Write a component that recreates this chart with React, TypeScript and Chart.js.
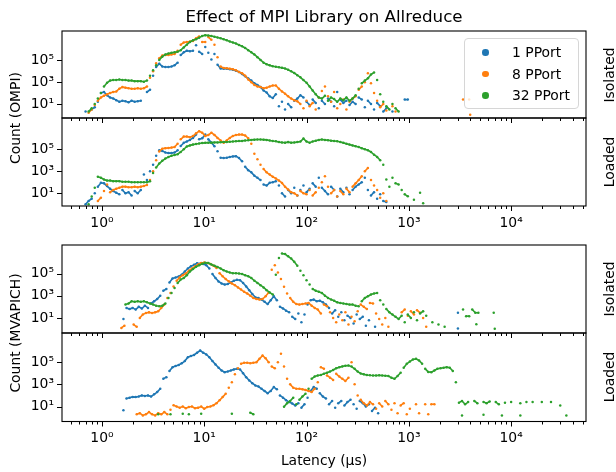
import React, { useEffect, useRef } from "react";
import { Chart, registerables } from "chart.js";
Chart.register(...registerables);

// ---------- layout constants ----------
const W = 616;
const H = 472;
const PLOT_LEFT = 62;
const PLOT_RIGHT = 586;
const X_AXIS_H = 40;
const FONT = "'DejaVu Sans', 'Liberation Sans', sans-serif";

// ---------- data ----------
// histogram bins are spaced STEP apart in log10(latency / µs); values are log10(count)
const STEP = 0.03;
type Seg = { from: number; y: (number | null)[] };

const SERIES_NAMES = ["1 PPort", "8 PPort", "32 PPort"];
const SERIES_COLORS = ["#1f77b4", "#ff7f0e", "#2ca02c"];

// OMPI — Isolated
const OMPI_ISO_1: Seg[] = [
  { from: -0.16, y: [0.3, null, 0.5, 0.7, 1.2, 2.0, 2.1, 1.8, 1.6, 1.5, 1.35, 1.2, 1.3, 1.25, 1.15, 1.3, 1.2, 1.25, 1.3, null, 2.1, 2.3, 3.6, 4.4, 4.7, 4.45, 4.4, 4.4, 4.45, 4.55, 4.8, 5.5, 5.75, 5.9, 5.85, 5.9, 6.4, 5.8, 5.6, 6.25, 5.7, 5.1, 5.6, 4.6, 4.27, 4.25, 4.25, 4.2, 4.15, 4.05, 3.95, 3.75, 3.55, 3.35, 3.15, 2.9, 2.75, 2.55, 2.25, 2.05, 1.7, 1.55, 1.9, 0.8, 1.2, 0.5, 1.0, 0.7, 1.3, 1.5, 1.8, 1.6, 1.2, 0.9, 1.4, 1.1, 0.6, 1.3, 1.0, 1.5, 1.2, 0.8, 2.1, 1.4, 1.1, 1.3, 0.9, 1.2, 1.0, 1.6, 1.4, 0.7, 1.3, 1.0, 0.5, 1.1, 0.8, 0.3, 0.6, null, 0.3, null, null, null, 1.4, 1.4] },
];
const OMPI_ISO_8: Seg[] = [
  { from: -0.13, y: [0.2, 0.5, 0.9, 1.3, 1.6, 1.75, 1.9, 2.0, 2.1, 2.15, 2.4, 2.55, 2.5, 2.45, 2.4, 2.4, 2.45, 2.4, 2.45, 2.6, 3.4, 4.0, 4.75, 5.2, 5.45, 5.5, 5.5, 5.55, 5.6, 5.9, 6.45, 6.65, 6.7, 6.75, 6.8, 7.05, 7.2, 6.7, 6.7, 7.15, 6.9, 6.45, 5.3, 4.45, 4.3, 4.28, 4.25, 4.2, 4.1, 3.95, 3.82, 3.6, 3.25, 3.0, 2.75, 2.6, 2.55, 2.45, 2.5, 2.6, 2.7, 2.7, 2.4, 2.15, 1.95, 1.7, 1.5, 1.35, 1.24, 1.0, 0.6, 1.3, 0.8, 1.1, 0.5, 1.6, 2.2, 2.6, 1.7, 1.2, 2.1, 0.6, 1.0, 1.4, 0.5, 1.2, 1.5, 1.7, 2.3, 2.6, 3.0, 3.82, 2.9, 2.0, 1.3, 0.7, 1.0, 0.4, null, 0.8, 0.3] },
  { from: 3.53, y: [1.4, null, 1.4] },
  { from: 3.6, y: [0.0] },
];
const OMPI_ISO_32: Seg[] = [
  { from: -0.13, y: [0.3, 0.6, 1.0, 1.5, 2.0, 2.6, 2.95, 3.15, 3.2, 3.2, 3.25, 3.2, 3.2, 3.15, 3.15, 3.1, 3.1, 3.1, 3.05, 3.15, 3.6, 4.1, 4.55, 5.05, 5.35, 5.55, 5.65, 5.7, 5.75, 5.8, 5.95, 6.2, 6.45, 6.7, 6.85, 6.95, 7.1, 7.25, 7.33, 7.3, 7.25, 7.18, 7.12, 7.05, 6.95, 6.85, 6.75, 6.65, 6.55, 6.42, 6.3, 6.15, 5.95, 5.75, 5.55, 5.3, 5.05, 4.8, 4.65, 4.55, 4.47, 4.42, 4.38, 4.32, 4.27, 4.15, 4.0, 3.85, 3.65, 3.45, 3.2, 2.95, 2.6, 2.25, 1.9, 1.6, 1.5, 1.75, 1.3, 1.6, 1.45, 1.2, 1.5, 1.35, 1.6, 1.3, 1.5, 1.8, 2.4, 2.9, 3.15, 3.36, 3.7, 3.9, 3.2, 1.9, 1.2, 0.8, 0.5, 1.0, 0.6, 0.3] },
];

// OMPI — Loaded
const OMPI_LOAD_1: Seg[] = [
  { from: -0.16, y: [0.0, 0.3, 0.5, 1.0, 1.6, 1.95, 1.9, 1.65, 1.4, 1.2, 1.05, 0.9, 1.3, 1.0, 1.1, 0.8, 1.2, 1.0, 1.3, 2.7, 2.2, 3.0, 3.6, 4.4, 4.9, 4.85, 4.7, 4.65, 4.65, 4.7, 4.9, 5.3, 5.58, 5.7, 5.85, 6.03, 6.33, 5.9, 6.0, 6.33, 5.9, 5.6, 5.27, 4.82, 4.22, 4.2, 4.22, 4.3, 4.35, 4.37, 4.2, 3.9, 3.4, 3.1, 2.9, 2.6, 2.4, 2.2, 1.8, 1.7, 1.95, 2.0, 2.1, 1.7, 1.0, 0.7, 1.3, 1.0, 1.5, 0.8, 1.3, 1.7, 1.1, 1.4, 1.9, 1.6, 2.4, 1.5, 1.2, 0.9, 1.6, 1.3, 0.7, 1.4, 1.1, 1.5, 0.9, 1.3, 1.6, 1.8, 2.0, 2.4, 1.3, 0.8, 1.1, 0.5, 0.9, 0.3, 0.2] },
];
const OMPI_LOAD_8: Seg[] = [
  { from: -0.04, y: [0.3, 0.6, 1.2, 1.8, 1.1, 1.3, 1.4, 1.5, 1.6, 1.6, 1.55, 1.55, 1.6, 1.55, 1.6, 1.65, 1.75, 2.2, 3.0, 4.0, 4.8, 5.05, 5.1, 5.12, 5.15, 5.2, 5.5, 5.9, 6.15, 6.15, 6.1, 6.2, 6.45, 6.64, 6.5, 6.2, 6.3, 6.5, 6.3, 6.03, 5.8, 5.58, 5.8, 6.03, 6.2, 6.3, 6.33, 6.33, 6.25, 6.0, 5.5, 4.6, 4.1, 3.6, 3.2, 2.9, 2.7, 2.5, 2.35, 2.15, 1.94, 1.6, 1.33, 1.1, 1.0, 0.8, 1.2, 1.0, 0.9, 1.3, 0.8, 1.1, 1.5, 2.0, 2.55, 1.6, 1.0, 1.3, 0.7, 1.2, 0.9, 1.4, 1.1, 1.6, 1.9, 2.2, 2.55, 3.0, 3.3, 2.2, 1.7, 1.3, 0.6, 1.0, 0.3] },
];
const OMPI_LOAD_32: Seg[] = [
  { from: -0.13, y: [0.0, 0.7, 1.5, 2.5, 2.4, 2.25, 2.15, 2.15, 2.1, 2.1, 2.1, 2.05, 2.05, 2.05, 2.0, 2.0, 2.0, 2.0, 2.0, 2.0, 2.1, 2.85, 3.35, 3.7, 3.95, 4.15, 4.3, 4.4, 4.48, 4.55, 4.75, 5.0, 5.25, 5.35, 5.42, 5.48, 5.52, 5.56, 5.58, 5.6, 5.6, 5.62, 5.62, 5.64, 5.65, 5.66, 5.68, 5.7, 5.72, 5.74, 5.76, 5.8, 5.82, 5.85, 5.87, 5.88, 5.88, 5.87, 5.85, 5.8, 5.75, 5.72, 5.65, 5.62, 5.6, 5.65, 5.6, 5.62, 5.65, 5.7, 5.97, 5.7, 5.6, 5.7, 5.78, 5.85, 5.88, 5.85, 5.82, 5.78, 5.75, 5.72, 5.65, 5.58, 5.5, 5.42, 5.35, 5.28, 5.2, 5.1, 5.0, 4.9, 4.75, 4.5, 4.3, 4.0, 3.6, 2.25, 1.6, 2.4, 1.9, 1.8, 1.3, 0.9, 0.73, null, 0.4, null, 1.04, 0.1] },
];

// MVAPICH — Isolated
const MVA_ISO_1: Seg[] = [
  { from: 0.21, y: [0.9, 1.9, 1.8, 1.9, 1.75, 2.0, 1.85, 2.1, 1.9, 2.3, 2.5, 2.7, 3.0, 3.45, 3.6, 4.2, 4.55, 4.65, 4.73, 4.9, 5.18, 5.45, 5.65, 5.78, 5.93, 5.88, 5.85, 5.75, 5.45, 4.95, 4.6, 4.29, 4.1, 4.0, 4.05, 4.2, 4.35, 4.44, 4.4, 4.15, 3.84, 3.5, 3.15, 2.85, 2.8, 2.65, 2.45, 2.25, 2.6, 2.95, 2.6, 2.0, 1.85, 1.65, 1.5, 1.1, 0.9, 1.4, 0.6, 1.3, 2.2, 2.6, 2.65, 2.5, 2.55, 2.4, 2.2, 1.9, 1.4, 1.7, 1.1, 1.5, 0.8, 1.2, 1.0, 0.5, 1.3, 0.9, 1.1, 0.3, 0.8, null, 0.2] },
  { from: 3.48, y: [1.46] },
  { from: 3.48, y: [0.05] },
];
const MVA_ISO_8: Seg[] = [
  { from: 0.19, y: [0.1, 0.3, null, null, 0.4, 0.2, 1.0, 1.3, 1.45, 1.5, 1.45, 1.5, 1.6, 1.9, 2.2, 2.8, 3.25, 3.84, 4.35, 4.65, 4.85, 5.0, 5.25, 5.45, 5.65, 5.82, 5.95, 5.99, 5.95, 5.85, 5.7, 5.5, 5.03, 4.75, 4.5, 4.3, 4.1, 3.95, 3.75, 3.55, 3.35, 3.2, 3.0, 2.8, 2.7, 2.65, 2.7, 2.95, 3.3, 5.33, 5.75, 5.1, 4.5, 3.8, 3.2, 2.8, 2.45, 2.25, 2.2, 2.25, 2.3, 2.35, 2.1, 1.9, 1.75, 1.4, 2.2, 2.05, 1.5, 1.0, 0.6, 1.3, 0.8, 1.5, 0.4, 1.1, 0.7, 1.6, 2.2, 2.0, 1.8, 2.35, 2.3, 1.4, 0.9, 0.4, 1.0, 0.2] },
  { from: 2.93, y: [1.5, 1.76, 1.2, 1.6, 1.3, 1.7, 1.46, 1.0, 0.2] },
];
const MVA_ISO_32: Seg[] = [
  { from: 0.23, y: [2.2, 2.3, 2.5, 2.45, 2.5, 2.45, 2.5, 2.4, 2.3, 2.2, 2.1, 2.05, 2.1, 2.3, 2.8, 3.25, 3.7, 4.15, 4.45, 4.59, 4.85, 5.18, 5.4, 5.6, 5.75, 5.88, 5.97, 5.95, 5.82, 5.7, 5.58, 5.45, 5.3, 5.18, 5.1, 5.03, 5.02, 5.0, 4.95, 4.85, 4.75, 4.6, 4.35, 4.15, 3.95, 3.75, 3.5, 3.3, 3.1, 4.9, 6.4, 6.8, 6.75, 6.55, 6.35, 6.05, 5.7, 5.25, 4.85, 4.4, 4.0, 3.6, 3.45, 3.35, 3.25, 3.0, 2.8, 2.65, 2.55, 2.4, 2.35, 2.3, 2.25, 2.2, 2.2, 2.1, 2.05, 2.5, 2.8, 2.95, 3.1, 3.2, 3.25, 2.6, 2.2, 1.8, 1.5, 1.3, 1.1, 0.9, 1.2, 0.6, 1.3, 1.0, 1.5, 0.8, 1.4, 1.6, 1.2, null, 0.6, null, 0.4, null, 0.2] },
  { from: 3.53, y: [1.76, 1.16, 1.16, 1.76, 1.46, 1.46, null, null, null, null, 1.46] },
  { from: 3.66, y: [0.42] },
  { from: 3.84, y: [0.03] },
];

// MVAPICH — Loaded
const MVA_LOAD_1: Seg[] = [
  { from: 0.21, y: [0.67, 1.72, 1.8, 1.87, 1.85, 1.9, 2.0, 1.95, 2.0, 1.9, 2.1, 2.3, 2.6, 3.5, 3.65, 4.2, 4.55, 4.65, 4.75, 4.9, 5.1, 5.45, 5.55, 5.65, 5.85, 6.05, 5.85, 5.7, 5.45, 5.1, 4.8, 4.5, 4.25, 4.1, 4.15, 4.25, 4.35, 4.4, 4.35, 4.0, 3.65, 3.35, 3.1, 2.9, 2.8, 2.6, 2.4, 2.2, 2.4, 2.75, 2.55, 2.0, 1.8, 1.57, 1.4, 1.27, 1.1, 1.3, 0.9, 1.2, 1.8, 2.4, 2.75, 2.6, 2.2, 1.9, 1.72, 1.2, 1.5, 0.9, 1.3, 1.5, 1.1, 1.4, 1.6, 1.2, 0.8, 1.5, 1.3, 1.0, 1.2, 0.6, 0.9, 0.4] },
];
const MVA_LOAD_8: Seg[] = [
  { from: 0.34, y: [0.3, 0.4, 0.2, 0.3, 0.5, 0.3, 0.2, 0.4, 0.3, 0.5, 0.3, 0.7, 1.12, 1.0, 0.9, 1.0, 0.85, 0.95, 1.0, 0.85, 0.9, 1.0, 0.8, 0.95, 1.0, 1.12, 1.3, 1.57, 1.85, 2.15, 2.7, 3.2, 3.9, 4.45, 4.85, 4.95, 4.95, 4.9, 4.95, 5.0, 5.3, 5.6, 5.35, 5.0, 4.6, 4.45, 5.0, 5.75, 4.6, 3.5, 3.0, 2.7, 2.6, 2.6, 2.55, 2.5, 2.4, 2.3, 2.6, 3.2, 4.55, 4.4, 3.8, 3.6, 3.4, 3.95, 3.7, 3.5, 3.3, 3.6, 5.0, 3.0, 2.0, 1.6, 1.3, 1.1, 1.4, 1.2, 0.8, 1.3, 1.0, 1.5, 1.2, 0.7, 1.3, 0.4, 1.1, 1.3, 0.3, 0.8, null, 1.2, 0.4, null, 1.2, 0.3, 1.2, 1.2] },
];
const MVA_LOAD_32: Seg[] = [
  { from: 0.55, y: [0.3, null, null, null, 0.3, null, null, null, 0.35, null, 0.3, null, null, null, 0.35, null, null, null, null, null, null, null, null, null, 0.35, null, null, null, null, null, 0.45, 0.3] },
  { from: 1.78, y: [0.97, 1.3, 1.5, 1.8, 1.2, 1.6, 1.9, 2.15, 2.6, 3.5, 3.7, 3.8, 3.85, 3.95, 4.05, 4.15, 4.3, 4.45, 4.55, 4.62, 4.68, 4.7, 4.6, 4.4, 4.15, 3.98, 3.9, 3.85, 3.82, 3.8, 3.8, 3.82, 3.8, 3.78, 3.75, 3.6, 3.5, 3.75, 4.05, 4.5, 4.85, 5.05, 5.25, 5.3, 5.15, 4.85, 4.4, 4.12, 4.1, 4.25, 4.4, 4.45, 4.5, 4.55, 4.5, 4.2, 3.2] },
  { from: 3.49, y: [1.35, 1.5, 1.2, 1.4, null, 1.5, 1.3, null, 1.4, 1.3, 1.45, null, 1.4, 1.2, null, 1.35, null, 1.4, null, null, 1.3, null, 1.4, null, 1.4, null, null, 1.4, null, null, 1.4, null, null, 1.1] },
  { from: 3.52, y: [0.2] },
  { from: 3.73, y: [0.25] },
  { from: 3.91, y: [0.2] },
  { from: 4.09, y: [0.2] },
  { from: 4.54, y: [0.2] },
];

// ---------- axes ----------
const X_MIN = 0.407;
const X_MAX = 53950;
const X_MAJOR = [1, 10, 100, 1000, 10000];
const X_MAJOR_LABELS = ["10⁰", "10¹", "10²", "10³", "10⁴"];
const X_MINOR_MULT = [2, 3, 4, 5, 6, 7, 8, 9];
const Y_MAJOR = [10, 1000, 100000];
const Y_MAJOR_LABELS = ["10¹", "10³", "10⁵"];

const X_TICKS: number[] = [];
[0.1, 1, 10, 100, 1000, 10000].forEach((d) => {
  if (d >= 1) X_TICKS.push(d);
  X_MINOR_MULT.forEach((m) => {
    const v = d * m;
    if (v >= X_MIN && v <= X_MAX) X_TICKS.push(v);
  });
});

type Panel = {
  top: number;
  bottom: number;
  yMinLog: number;
  yMaxLog: number;
  showX: boolean;
  series: Seg[][];
};

const PANELS: Panel[] = [
  { top: 31, bottom: 118, yMinLog: -0.29, yMaxLog: 7.71, showX: false, series: [OMPI_ISO_1, OMPI_ISO_8, OMPI_ISO_32] },
  { top: 118, bottom: 206, yMinLog: -0.16, yMaxLog: 7.84, showX: true, series: [OMPI_LOAD_1, OMPI_LOAD_8, OMPI_LOAD_32] },
  { top: 245, bottom: 333, yMinLog: -0.36, yMaxLog: 7.57, showX: false, series: [MVA_ISO_1, MVA_ISO_8, MVA_ISO_32] },
  { top: 333, bottom: 421.5, yMinLog: -0.35, yMaxLog: 7.63, showX: true, series: [MVA_LOAD_1, MVA_LOAD_8, MVA_LOAD_32] },
];

function toPoints(segs: Seg[]) {
  const pts: { x: number; y: number }[] = [];
  segs.forEach((s) => {
    s.y.forEach((v, i) => {
      if (v === null) return;
      pts.push({ x: Math.pow(10, s.from + i * STEP), y: Math.pow(10, v) });
    });
  });
  return pts;
}

const framePlugin = {
  id: "frame",
  afterDatasetsDraw(chart: any) {
    const { ctx, chartArea: a, scales } = chart;
    ctx.save();
    ctx.strokeStyle = "#000";
    ctx.lineWidth = 1.1;
    ctx.strokeRect(a.left, a.top, a.right - a.left, a.bottom - a.top);
    ctx.lineWidth = 1;
    ctx.beginPath();
    X_TICKS.forEach((v) => {
      const px = Math.round(scales.x.getPixelForValue(v)) + 0.5;
      const len = X_MAJOR.includes(v) ? 5 : 3;
      ctx.moveTo(px, a.bottom);
      ctx.lineTo(px, a.bottom + len);
    });
    Y_MAJOR.forEach((v) => {
      const py = Math.round(scales.y.getPixelForValue(v)) + 0.5;
      ctx.moveTo(a.left, py);
      ctx.lineTo(a.left - 5, py);
    });
    ctx.stroke();
    ctx.restore();
  },
};

const HIDDEN = "rgba(0,0,0,0)";

function PanelChart({ panel }: { panel: Panel }) {
  const ref = useRef<HTMLCanvasElement | null>(null);
  useEffect(() => {
    if (!ref.current) return;
    const datasets = panel.series.map((segs, k) => ({
      label: SERIES_NAMES[k],
      data: toPoints(segs),
      backgroundColor: SERIES_COLORS[k],
      borderColor: SERIES_COLORS[k],
      borderWidth: 1.6,
      showLine: true,
      tension: 0,
      pointRadius: 1.25,
      pointBorderWidth: 0,
      pointHoverRadius: 1.25,
      order: 3 - k,
      segment: {
        // only join neighbouring bins whose counts are close (the dense parts of the histogram)
        borderColor: (ctx: any) => {
          const dx = ctx.p1.x - ctx.p0.x;
          const dy = Math.abs(ctx.p1.y - ctx.p0.y);
          return dx > 4 || dy > 4.2 ? HIDDEN : undefined;
        },
      },
    }));
    const tickFont = { family: FONT, size: 13.9 };
    const chart = new Chart(ref.current, {
      type: "scatter",
      data: { datasets },
      options: {
        animation: false,
        responsive: false,
        devicePixelRatio: 1,
        events: [],
        layout: {
          padding: { left: 0, right: W - PLOT_RIGHT, top: panel.top, bottom: H - panel.bottom - X_AXIS_H },
        },
        plugins: { legend: { display: false }, tooltip: { enabled: false }, title: { display: false } },
        scales: {
          x: {
            type: "logarithmic",
            min: X_MIN,
            max: X_MAX,
            afterBuildTicks: (s: any) => {
              s.ticks = X_TICKS.map((v) => ({ value: v }));
            },
            afterFit: (s: any) => {
              s.height = X_AXIS_H;
            },
            grid: { display: true, drawOnChartArea: false, drawTicks: true, tickLength: 5, color: HIDDEN, tickColor: HIDDEN },
            border: { display: false },
            ticks: {
              display: panel.showX,
              autoSkip: false,
              maxRotation: 0,
              padding: 4,
              color: "#000",
              font: tickFont,
              callback: (v: any) => {
                const i = X_MAJOR.indexOf(Number(v));
                return i >= 0 ? X_MAJOR_LABELS[i] : "";
              },
            },
          },
          y: {
            type: "logarithmic",
            min: Math.pow(10, panel.yMinLog),
            max: Math.pow(10, panel.yMaxLog),
            afterBuildTicks: (s: any) => {
              s.ticks = Y_MAJOR.map((v) => ({ value: v }));
            },
            afterFit: (s: any) => {
              s.width = PLOT_LEFT;
            },
            grid: { display: true, drawOnChartArea: false, drawTicks: true, tickLength: 5, color: HIDDEN, tickColor: HIDDEN },
            border: { display: false },
            ticks: {
              autoSkip: false,
              padding: 3,
              color: "#000",
              font: tickFont,
              callback: (v: any) => {
                const i = Y_MAJOR.indexOf(Number(v));
                return i >= 0 ? Y_MAJOR_LABELS[i] : "";
              },
            },
          },
        },
      } as any,
      plugins: [framePlugin],
    });
    return () => chart.destroy();
  }, [panel]);
  return (
    <canvas
      ref={ref}
      width={W}
      height={H}
      style={{ position: "absolute", left: 0, top: 0, width: W, height: H, pointerEvents: "none" }}
    />
  );
}

function VText({ text, cx, cy }: { text: string; cx: number; cy: number }) {
  return (
    <div
      style={{
        position: "absolute",
        left: cx,
        top: cy,
        transform: "translate(-50%, -50%) rotate(-90deg)",
        whiteSpace: "nowrap",
        fontSize: 13.9,
        lineHeight: "16px",
        color: "#000",
      }}
    >
      {text}
    </div>
  );
}

export default function App() {
  return (
    <div
      style={{
        position: "absolute",
        left: 0,
        top: 0,
        width: W,
        height: H,
        background: "#fff",
        fontFamily: FONT,
        overflow: "hidden",
      }}
    >
      {PANELS.map((p, i) => (
        <PanelChart key={i} panel={p} />
      ))}
      <div
        style={{
          position: "absolute",
          left: PLOT_LEFT,
          width: PLOT_RIGHT - PLOT_LEFT,
          top: 5,
          textAlign: "center",
          fontSize: 16.7,
          lineHeight: "22px",
          color: "#000",
        }}
      >
        Effect of MPI Library on Allreduce
      </div>
      <VText text="Count (OMPI)" cx={15} cy={118} />
      <VText text="Count (MVAPICH)" cx={15} cy={333} />
      <VText text="Isolated" cx={609} cy={74.5} />
      <VText text="Loaded" cx={609} cy={162} />
      <VText text="Isolated" cx={609} cy={289} />
      <VText text="Loaded" cx={609} cy={377} />
      <div
        style={{
          position: "absolute",
          left: PLOT_LEFT,
          width: PLOT_RIGHT - PLOT_LEFT,
          top: 451,
          textAlign: "center",
          fontSize: 13.9,
          lineHeight: "18px",
          color: "#000",
        }}
      >
        Latency (µs)
      </div>
      <div
        style={{
          position: "absolute",
          left: 464,
          top: 38,
          width: 115,
          height: 71,
          boxSizing: "border-box",
          border: "1px solid #d6d6d6",
          borderRadius: 4,
          background: "rgba(255,255,255,0.8)",
        }}
      >
        {SERIES_NAMES.map((name, k) => (
          <div key={name} style={{ position: "absolute", left: 0, top: 3 + k * 21.7, height: 20, width: 113 }}>
            <div
              style={{
                position: "absolute",
                left: 17,
                top: 7,
                width: 6.5,
                height: 6.5,
                borderRadius: "50%",
                background: SERIES_COLORS[k],
              }}
            />
            <div
              style={{
                position: "absolute",
                left: 47,
                top: 1,
                fontSize: 13.9,
                lineHeight: "18px",
                color: "#000",
                whiteSpace: "nowrap",
              }}
            >
              {name}
            </div>
          </div>
        ))}
      </div>
    </div>
  );
}
